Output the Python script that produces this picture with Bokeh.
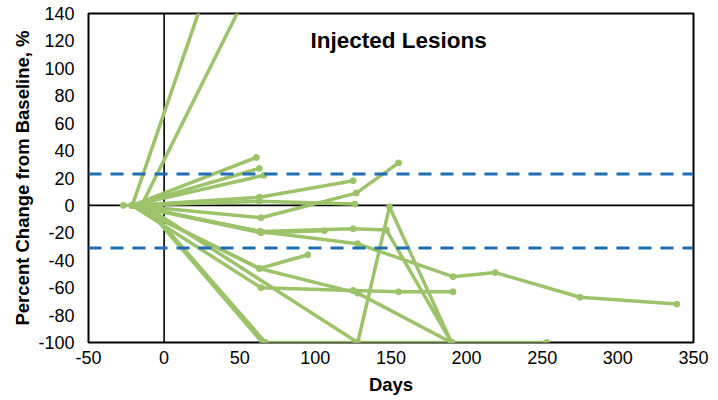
from bokeh.plotting import figure
from bokeh.models import Range1d, FixedTicker, Span, Label
from bokeh.embed import file_html
from bokeh.resources import INLINE

# Axis ticks
day_ticks = [-50, 0, 50, 100, 150, 200, 250, 300, 350]
pct_ticks = [-100, -80, -60, -40, -20, 0, 20, 40, 60, 80, 100, 120, 140]

# Response thresholds (dashed lines)
upper_threshold = 23
lower_threshold = -31

# Per-lesion series: study day and percent change from baseline
lesion_days = [
    [-21, 40],
    [-15, 60],
    [-21, 61],
    [-21, 63],
    [-21, 66],
    [-21, 63, 125],
    [-27, 63, 126],
    [-21, 64, 127, 155],
    [-21, 64, 106],
    [-21, 64, 125, 147, 190],
    [-21, 63, 128, 191, 219, 275, 339],
    [-21, 63, 95],
    [-21, 64, 125, 155, 191],
    [-21, 63, 128, 190],
    [-13, 128, 149, 190],
    [-13, 65],
    [-12, 67, 127, 190, 253],
]
lesion_pct = [
    [0, 196],
    [0, 166],
    [0, 35],
    [0, 27],
    [0, 22],
    [0, 6, 18],
    [0, 3, 1],
    [0, -9, 9, 31],
    [0, -20, -18.5],
    [0, -19, -17, -18, -100],
    [0, -19, -28, -52, -49, -67, -72],
    [0, -46, -36],
    [0, -60, -62, -63, -63],
    [0, -46, -64, -100],
    [0, -100, -1, -100],
    [0, -100],
    [0, -100, -100, -100, -100],
]

GREEN = "#9CC26A"
BLUE = "#1F6DB2"
FONT = "Liberation Sans"

p = figure(width=718, height=400, output_backend="svg", toolbar_location=None,
           x_range=Range1d(-50, 350), y_range=Range1d(-100, 140),
           min_border_left=88, min_border_right=25, min_border_top=13, min_border_bottom=58)

p.xgrid.visible = False
p.ygrid.visible = False
p.outline_line_color = "black"
p.outline_line_width = 2
p.outline_line_alpha = 1
p.background_fill_color = "white"
p.border_fill_color = "white"

for ax in (p.xaxis[0], p.yaxis[0]):
    ax.axis_line_color = None
    ax.major_tick_line_color = None
    ax.minor_tick_line_color = None
    ax.major_tick_in = 0
    ax.major_tick_out = 0
    ax.minor_tick_in = 0
    ax.minor_tick_out = 0
    ax.major_label_text_font = FONT
    ax.major_label_text_font_size = "18px"
    ax.major_label_text_color = "black"
    ax.axis_label_text_font = FONT
    ax.axis_label_text_font_style = "bold"
    ax.axis_label_text_font_size = "18.5px"
    ax.axis_label_text_color = "black"

p.xaxis.ticker = FixedTicker(ticks=day_ticks)
p.yaxis.ticker = FixedTicker(ticks=pct_ticks)
p.xaxis.major_label_overrides = {t: str(t) for t in day_ticks}
p.yaxis.major_label_overrides = {t: str(t) for t in pct_ticks}
p.xaxis.major_label_standoff = 8
p.yaxis.major_label_standoff = 14
p.xaxis.axis_label = "Days"
p.yaxis.axis_label = "Percent Change from Baseline, %"
p.xaxis.axis_label_standoff = 7
p.yaxis.axis_label_standoff = 2

# zero axes
p.add_layout(Span(location=0, dimension="height", line_color="black", line_width=1.6, level="underlay"))
p.add_layout(Span(location=0, dimension="width", line_color="black", line_width=1.6, level="underlay"))

for d, v in zip(lesion_days, lesion_pct):
    p.line(d, v, line_color=GREEN, line_width=3.5)
    p.scatter(d, v, size=6, fill_color=GREEN, line_color=GREEN)

for t in (upper_threshold, lower_threshold):
    p.add_layout(Span(location=t, dimension="width", line_color=BLUE, line_width=3,
                      line_dash="13 9", level="overlay"))

p.add_layout(Label(x=155, y=120, text="Injected Lesions", text_font=FONT,
                   text_font_style="bold", text_font_size="22.5px", text_align="center",
                   text_baseline="middle", text_color="black"))

open("out.html", "w").write(file_html(p, INLINE))
